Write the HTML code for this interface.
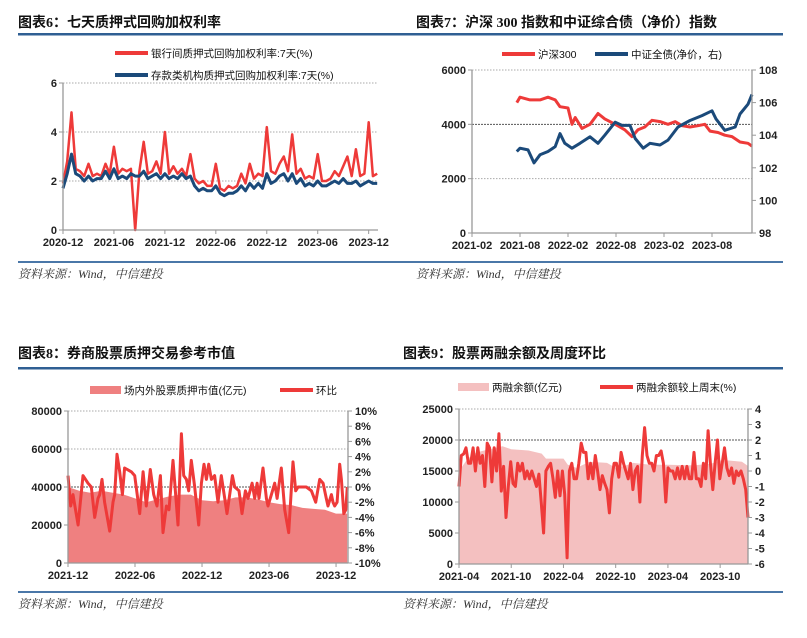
<!DOCTYPE html>
<html><head><meta charset="utf-8">
<style>
html,body{margin:0;padding:0;background:#fff;width:807px;height:638px;overflow:hidden}
svg{display:block}
.t{font-family:"Liberation Serif","Noto Sans CJK SC",serif;font-weight:bold;font-size:14px;fill:#111}
.tk{font-family:"Liberation Sans","Noto Sans CJK SC",sans-serif;font-weight:bold;font-size:11px;fill:#222}
.lg{font-family:"Liberation Sans","Noto Sans CJK SC",sans-serif;font-size:10.5px;fill:#111}
.src{font-family:"Liberation Serif","Noto Serif CJK SC",serif;font-style:italic;font-size:12px;fill:#333}
</style></head><body>
<svg id="s" width="807" height="638" viewBox="0 0 807 638" xmlns="http://www.w3.org/2000/svg"></svg>
<script>
// ---- Chart 6 data (months since 2020-12) ----
const c6Months=[0,0.5,1,1.5,2,2.5,3,3.5,4,4.5,5,5.5,6,6.5,7,7.5,8,8.5,9,9.5,10,10.5,11,11.5,12,12.5,13,13.5,14,14.5,15,15.5,16,16.5,17,17.5,18,18.5,19,19.5,20,20.5,21,21.5,22,22.5,23,23.5,24,24.5,25,25.5,26,26.5,27,27.5,28,28.5,29,29.5,30,30.5,31,31.5,32,32.5,33,33.5,34,34.5,35,35.5,36,36.5,37];
const c6Interbank=[1.9,2.8,4.8,2.5,2.4,2.2,2.7,2.2,2.3,2.2,2.7,2.3,3.4,2.3,2.5,2.4,2.5,0,2.4,3.6,2.3,2.4,2.8,2.3,4.0,2.3,2.6,2.3,2.5,2.2,3.1,2.1,1.9,2.0,1.8,1.8,2.7,1.7,1.6,1.8,1.7,1.8,2.3,1.9,2.7,2.1,2.3,2.2,4.2,2.4,2.3,2.7,3.0,2.4,3.9,2.3,2.5,2.1,2.2,2.1,3.1,2.0,2.0,2.1,2.4,2.2,2.6,3.0,2.2,3.3,2.2,2.3,4.4,2.2,2.3];
const c6Deposit=[1.7,2.3,3.1,2.3,2.2,2.0,2.2,2.0,2.1,2.1,2.4,2.1,2.5,2.1,2.2,2.1,2.3,2.2,2.2,2.4,2.1,2.2,2.3,2.1,2.3,2.1,2.2,2.1,2.3,2.1,2.2,1.8,1.6,1.7,1.6,1.6,1.8,1.5,1.4,1.5,1.5,1.6,1.8,1.6,1.9,1.7,1.9,1.7,2.3,1.9,2.0,2.2,2.3,2.0,2.3,1.9,2.1,1.8,1.9,1.8,2.0,1.8,1.8,1.9,2.0,1.9,2.1,1.9,1.9,2.0,1.8,1.9,2.0,1.9,1.9];
const c6XTicks=["2020-12","2021-06","2021-12","2022-06","2022-12","2023-06","2023-12"];
const c6YTicks=[0,2,4,6];
// ---- Chart 7 data (months since 2021-02) ----
const c7HsMonths=[5.6,6,7.25,8.5,9.5,10.4,11,12,12.5,12.9,13.75,14.75,15.75,16.6,17.9,19.1,20,20.75,21.6,22.5,23.5,24.5,25.4,26.25,27.25,28.25,29.1,29.75,30.75,31.6,32.5,33.5,34.5,35];
const c7Hs300=[4800,5000,4900,4900,5000,4900,4650,4600,4000,4250,3850,4000,4400,4200,4000,3800,3550,3800,3900,4150,4100,4000,4100,3950,3900,3950,4000,3750,3700,3600,3550,3350,3300,3200];
const c7BondMonths=[5.6,6,7,7.75,8.5,9.5,10.4,11,11.6,12.5,13.5,14.75,15.75,16.6,17.9,18.75,19.75,20.4,21.4,22.25,23.5,24.5,25.75,27.25,28.75,30,30.5,31.6,32.9,33.5,34.5,35];
const c7Bond=[103.0,103.2,103.1,102.3,102.8,103.0,103.3,104.1,103.5,103.2,103.5,103.9,103.5,104.0,104.8,104.6,104.6,103.8,103.2,103.5,103.4,103.7,104.5,104.9,105.2,105.5,105.0,104.3,104.5,105.3,105.9,106.5];
const c7XTicks=["2021-02","2021-08","2022-02","2022-08","2023-02","2023-08"];
const c7YLeft=[0,2000,4000,6000];
const c7YRight=[98,100,102,104,106,108];
// ---- Chart 8 data (months since 2021-12) ----
const c8AreaMonths=[0,1,2,3,4,5,6,7,8,9,10,11,12,13,14,15,16,17,18,19,20,21,22,23,24,25];
const c8PledgeValue=[40000,38000,37000,38000,37000,36000,34000,32000,33500,35000,36000,36000,33000,32500,33000,34500,34500,33500,32000,31000,30500,29000,28500,28000,26000,26000];
const c8WowMonths=[0,0.24,0.45,0.9,1.34,1.79,2.09,2.39,2.69,2.84,3.04,3.28,3.73,4.03,4.18,4.39,4.63,4.87,5.07,5.67,5.97,6.42,6.72,7.01,7.37,7.67,7.97,8.27,8.51,8.81,9.04,9.4,9.85,10.15,10.36,10.6,10.81,11.04,11.34,11.7,11.94,12.18,12.39,12.6,12.84,13.13,13.43,13.73,14.24,14.72,14.93,15.31,15.58,15.88,16.12,16.48,16.72,16.93,17.1,17.46,17.76,17.91,18.21,18.51,18.72,19.1,19.4,19.76,20.15,20.39,20.6,21.34,21.79,22.18,22.54,22.84,23.13,23.28,23.58,23.73,23.88,24.09,24.33,24.48,24.69,24.87,25.01];
const c8Wow=[1.5,-2.5,-1,-5,1.5,0.5,0,-4,-1.5,-1,1,-2,-5.8,-2,-1,4.3,2,-1,2.5,2,1.5,-3.5,2,-2.5,2.3,-1,-2.5,1.5,-6,-2.5,-3,3.5,-5,7,1.5,1,-0.5,3.5,0,-5,0.5,3,1,3,1,1.5,-2,1.5,-3.5,1.5,0,-0.5,-3.5,-0.5,-1.5,0.5,-1.5,0.5,-1.5,2.5,-1.5,-2.5,-1,0.5,-1.5,2.5,-3,-6,3.3,-0.5,0,0,-0.5,-2,1,0.5,-1.5,-2.5,-1,-2,-2.5,-2,3,1,-3.5,-3,0];
const c8XTicks=["2021-12","2022-06","2022-12","2023-06","2023-12"];
const c8YLeft=[0,20000,40000,60000,80000];
const c8YRight=[-10,-8,-6,-4,-2,0,2,4,6,8,10];
// ---- Chart 9 data (months since 2021-04) ----
const c9AreaMonths=[0,1,2,3.5,5,6,8,9.5,10,12,12.5,13.5,15,17,18,19,20,22,24,27,29,30,31,32.5,33.2];
const c9MarginBal=[15000,17000,18000,18500,19000,18500,18300,17800,17000,17000,16000,15500,16500,16300,15500,15800,16300,16000,16000,15900,16200,16700,16700,16500,15800];
const c9WowStart=0, c9WowEnd=33.2;
const c9Wow=[-1,1,1.1,1.5,0.5,0.5,1.5,0,1.5,0.5,1,-1,1.8,1.5,-0.7,1.5,0,2.4,-1.3,0.3,-3,-1,0.6,-0.8,-1,0.5,0,0.5,-0.5,0,-0.5,0,-0.5,-1,-0.2,-2,-4,0,0.3,0.5,-0.5,-1.7,0,-1.6,0,-1.5,-5.6,0,0.5,-0.5,-0.5,0.5,1.8,1.2,1.2,-0.5,0.5,-0.5,1,0,-1.2,-0.3,-0.8,-1.2,-2.7,-0.5,0.5,0.5,-0.4,1.2,0.5,0,-0.5,0.5,-1.2,0,0.3,-2,1,2.8,1,0.5,0.5,0,1,1,1.3,0.5,-2,0.2,0,0,-0.5,0.2,-0.5,0.3,-0.5,0.3,-0.5,-0.5,1.2,-0.5,-0.5,-1,0.5,-0.5,2.6,0.5,-1.2,0.5,2,-0.5,0.5,1.5,0.2,-0.3,0.2,-0.8,0,-0.3,0,-0.5,-1.2,-3];
const c9XTicks=["2021-04","2021-10","2022-04","2022-10","2023-04","2023-10"];
const c9YLeft=[0,5000,10000,15000,20000,25000];
const c9YRight=[-6,-5,-4,-3,-2,-1,0,1,2,3,4];

const svg=document.getElementById('s');
const NS='http://www.w3.org/2000/svg';
const RED='#ee3a39', BLUE='#1b4a7a';
function mk(tag,attrs,parent){const e=document.createElementNS(NS,tag);for(const k in attrs)e.setAttribute(k,attrs[k]);(parent||svg).appendChild(e);return e;}
function lin(d0,d1,r0,r1){return v=>r0+(v-d0)/(d1-d0)*(r1-r0);}
function txt(x,y,s,cls,anchor,parent){const e=mk('text',{x:x,y:y,class:cls,'text-anchor':anchor||'start'},parent);e.textContent=s;return e;}
function pathD(xs,ys,sx,sy){let d='';const n=Math.min(xs.length,ys.length);for(let i=0;i<n;i++)d+=(i?'L':'M')+sx(xs[i]).toFixed(1)+','+sy(ys[i]).toFixed(1);return d;}

function frame(g,tx,ty,title,ruleX0,ruleX1,ruleY,botY,srcX){
  const t=txt(tx,ty,title,'t','start',g);
  
  
  const r=mk('rect',{x:ruleX0,y:ruleY,width:ruleX1-ruleX0,height:2.5,fill:'#2f5f93'},g);
  
  
  const r2=mk('rect',{x:ruleX0,y:botY,width:ruleX1-ruleX0,height:2,fill:'#4a77a8'},g);
  
  
  const s=txt(srcX,botY+17,'资料来源：Wind，中信建投','src','start',g);
  
  
}
function grid(g,y,x0,x1,dark){
  const l=mk('line',{x1:x0,x2:x1,y1:y,y2:y,stroke:dark?'#555':'#aaa','stroke-width':1,'stroke-dasharray':dark?'2,1':'1.5,1.5'},g);
  
  
}
function axisLine(g,x1,y1,x2,y2){
  const l=mk('line',{x1:x1,y1:y1,x2:x2,y2:y2,stroke:'#999','stroke-width':1.3},g);
  
  
}
function legLine(g,x,y,color,w,label){
  const l=mk('line',{x1:x,x2:x+33,y1:y,y2:y,stroke:color,'stroke-width':w},g);
  
  
  const t=txt(x+36,y+4,label,'lg','start',g);
  
  
}
function legRect(g,x,y,color,label){
  const r=mk('rect',{x:x,y:y-4,width:31,height:8,fill:color},g);
  
  
  const t=txt(x+34,y+4,label,'lg','start',g);
  
  
}
function xTicks(g,labels,sx,y0,step){
  labels.forEach((lab,i)=>{const x=sx(i*step);
    const l=mk('line',{x1:x,x2:x,y1:y0,y2:y0+4,stroke:'#999','stroke-width':1},g);
    
    
    const t=txt(x,y0+16,lab,'tk','middle',g);
    
    });
}
function yTicks(g,vals,sy,x,side,fmt){
  vals.forEach(v=>{const y=sy(v);
    const l=mk('line',{x1:x,x2:x+(side==='left'?-4:4),y1:y,y2:y,stroke:'#999','stroke-width':1},g);
    
    
    const t=txt(side==='left'?x-6:x+7,y+4,fmt?fmt(v):String(v),'tk',side==='left'?'end':'start',g);
    
    });
}

// ===== Chart 6 =====
(function(){
  const g=mk('g',{});
  
  
  frame(g,18,27,'图表6：七天质押式回购加权利率',18,400,33,261,18);
  const X0=63,X1=378,Y0=230,Y1=83;
  const sx=lin(0,37.1,X0,X1), sy=lin(0,6,Y0,Y1);
  [2,4,6].forEach(v=>grid(g,sy(v),X0,X1,false));
  legLine(g,115,53,RED,4,'银行间质押式回购加权利率:7天(%)');
  legLine(g,115,75,BLUE,4,'存款类机构质押式回购加权利率:7天(%)');
  const p1=mk('path',{d:pathD(c6Months,c6Interbank,sx,sy),fill:'none',stroke:RED,'stroke-width':2.5,'stroke-linejoin':'round'},g);
  
  
  const p2=mk('path',{d:pathD(c6Months,c6Deposit,sx,sy),fill:'none',stroke:BLUE,'stroke-width':3,'stroke-linejoin':'round'},g);
  
  
  axisLine(g,X0,Y1,X0,Y0);axisLine(g,X0,Y0,X1,Y0);
  yTicks(g,c6YTicks,sy,X0,'left');
  xTicks(g,c6XTicks,sx,Y0,6);
})();

// ===== Chart 7 =====
(function(){
  const g=mk('g',{});
  
  
  frame(g,416,27,'图表7：沪深 300 指数和中证综合债（净价）指数',400,783,33,261,416);
  const X0=472,X1=752,Y0=233,Y1=70;
  const sx=lin(0,35,X0,X1), sy=lin(0,6000,Y0,Y1), sy2=lin(98,108,Y0,Y1);
  grid(g,sy(2000),X0,X1,false);grid(g,sy(4000),X0,X1,true);grid(g,sy(6000),X0,X1,false);
  legLine(g,502,54,RED,4,'沪深300');
  legLine(g,595,54,BLUE,4,'中证全债(净价，右)');
  const p1=mk('path',{d:pathD(c7HsMonths,c7Hs300,sx,sy),fill:'none',stroke:RED,'stroke-width':3,'stroke-linejoin':'round'},g);
  
  
  const p2=mk('path',{d:pathD(c7BondMonths,c7Bond,sx,sy2),fill:'none',stroke:BLUE,'stroke-width':3,'stroke-linejoin':'round'},g);
  
  
  axisLine(g,X0,Y1,X0,Y0);axisLine(g,X0,Y0,X1,Y0);axisLine(g,X1,Y1,X1,Y0);
  yTicks(g,c7YLeft,sy,X0,'left');
  yTicks(g,c7YRight,sy2,X1,'right');
  xTicks(g,c7XTicks,sx,Y0,6);
})();

// ===== Chart 8 =====
(function(){
  const g=mk('g',{});
  
  
  frame(g,18,358,'图表8：券商股票质押交易参考市值',18,400,367,591,18);
  const X0=68,X1=348,Y0=563,Y1=411;
  const sx=lin(0,25.07,X0,X1), sy=lin(0,80000,Y0,Y1), sy2=lin(-10,10,Y0,Y1);
  legRect(g,90,390,'#ef8080','场内外股票质押市值(亿元)');
  legLine(g,280,390,RED,4,'环比');
  const a=mk('path',{d:pathD(c8AreaMonths,c8PledgeValue,sx,sy)+'L'+sx(c8AreaMonths[c8AreaMonths.length-1])+','+Y0+'L'+sx(c8AreaMonths[0])+','+Y0+'Z',fill:'#ef8080'},g);
  
  
  grid(g,sy(40000),X0,X1,true);grid(g,sy(60000),X0,X1,false);grid(g,sy(80000),X0,X1,false);
  const p=mk('path',{d:pathD(c8WowMonths,c8Wow,sx,sy2),fill:'none',stroke:RED,'stroke-width':3,'stroke-linejoin':'round'},g);
  
  
  axisLine(g,X0,Y1,X0,Y0);axisLine(g,X0,Y0,X1,Y0);axisLine(g,X1,Y1,X1,Y0);
  yTicks(g,c8YLeft,sy,X0,'left');
  yTicks(g,c8YRight,sy2,X1,'right',v=>v+'%');
  xTicks(g,c8XTicks,sx,Y0,6);
})();

// ===== Chart 9 =====
(function(){
  const g=mk('g',{});
  
  
  frame(g,403,358,'图表9：股票两融余额及周度环比',400,783,367,591,403);
  const X0=459,X1=748,Y0=564,Y1=409;
  const sx=lin(0,33.2,X0,X1), sy=lin(0,25000,Y0,Y1), sy2=lin(-6,4,Y0,Y1);
  legRect(g,458,387,'#f4c0c0','两融余额(亿元)');
  legLine(g,600,387,RED,4,'两融余额较上周末(%)');
  const a=mk('path',{d:pathD(c9AreaMonths,c9MarginBal,sx,sy)+'L'+sx(c9AreaMonths[c9AreaMonths.length-1])+','+Y0+'L'+sx(c9AreaMonths[0])+','+Y0+'Z',fill:'#f4c0c0'},g);
  
  
  grid(g,sy(20000),X0,X1,true);grid(g,sy(25000),X0,X1,false);
  const n=c9Wow.length, step=(c9WowEnd-c9WowStart)/(n-1);
  const wm=c9Wow.map((_,i)=>c9WowStart+i*step);
  const p=mk('path',{d:pathD(wm,c9Wow,sx,sy2),fill:'none',stroke:RED,'stroke-width':3,'stroke-linejoin':'round'},g);
  
  
  axisLine(g,X0,Y1,X0,Y0);axisLine(g,X0,Y0,X1,Y0);axisLine(g,X1,Y1,X1,Y0);
  yTicks(g,c9YLeft,sy,X0,'left');
  yTicks(g,c9YRight,sy2,X1,'right');
  xTicks(g,c9XTicks,sx,Y0,6);
})();
</script>
</body></html>
